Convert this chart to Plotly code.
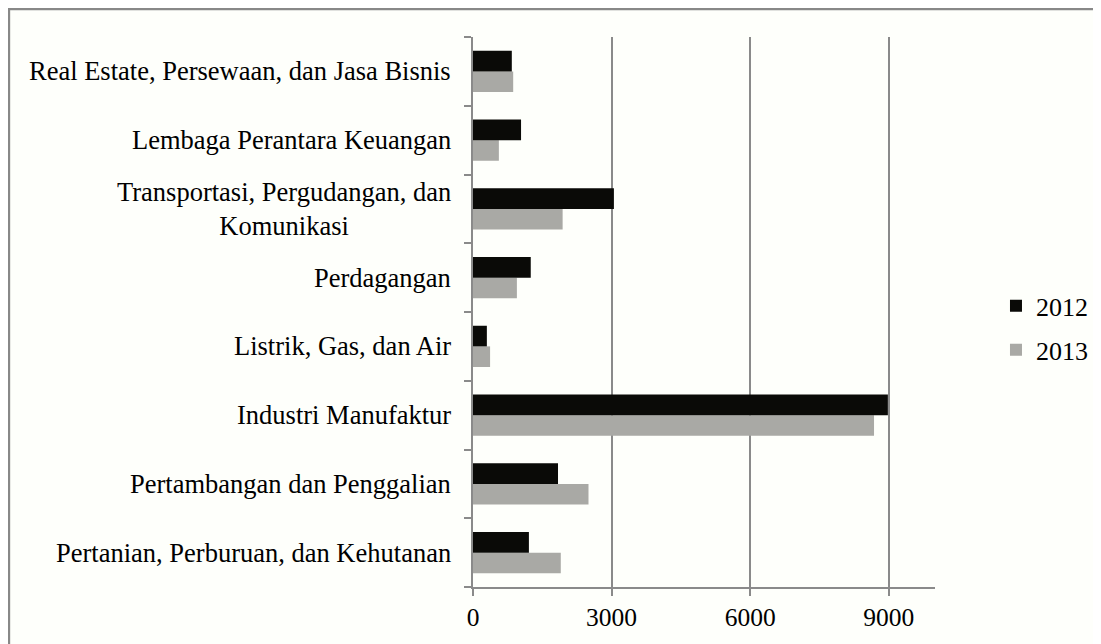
import plotly.graph_objects as go

categories = [
    "Pertanian, Perburuan, dan Kehutanan",
    "Pertambangan dan Penggalian",
    "Industri Manufaktur",
    "Listrik, Gas, dan Air",
    "Perdagangan",
    "Transportasi, Pergudangan, dan<br>Komunikasi",
    "Lembaga Perantara Keuangan",
    "Real Estate, Persewaan, dan Jasa Bisnis",
]
values_2012 = [1210, 1840, 8980, 300, 1250, 3050, 1040, 840]
values_2013 = [1900, 2500, 8680, 370, 950, 1940, 560, 870]
x_ticks = [0, 3000, 6000, 9000]

FONT = "Liberation Serif, Times New Roman, serif"
GRID = "#8a8a8a"

fig = go.Figure()
fig.add_trace(go.Bar(y=categories, x=values_2013, name="2013", orientation="h",
                     legendgroup="g2013", legendrank=2,
                     marker=dict(color="#a9a9a5", line=dict(width=0))))
fig.add_trace(go.Bar(y=categories, x=values_2012, name="2012", orientation="h",
                     legendgroup="g2012", legendrank=1,
                     marker=dict(color="#0a0a07", line=dict(width=0))))

for c in categories:
    fig.add_annotation(x=0, xref="paper", y=c, yref="y", text=c, showarrow=False,
                       xanchor="right", yanchor="middle", align="center", xshift=-20,
                       font=dict(family=FONT, size=26.5, color="#000"))

fig.add_shape(type="rect", xref="paper", yref="paper",
              x0=-465 / 462 + 0.002, x1=2, y0=-1, y1=(550 + 29) / 550 - 0.002,
              line=dict(color="#888888", width=2.5), fillcolor="rgba(0,0,0,0)", layer="below")

fig.update_layout(
    width=1101, height=644,
    margin=dict(l=465, r=174, t=29, b=65),
    paper_bgcolor="#fefffb", plot_bgcolor="rgba(0,0,0,0)",
    barmode="group", bargap=0.4, bargroupgap=0,
    font=dict(family=FONT, size=26, color="#000"),
    showlegend=True,
    legend=dict(traceorder="grouped", tracegroupgap=7, x=1.132, y=0.471,
                xanchor="left", yanchor="middle",
                bgcolor="rgba(0,0,0,0)", font=dict(family=FONT, size=26), itemwidth=30),
    xaxis=dict(range=[0, 10000], tickvals=x_ticks, ticktext=[str(v) for v in x_ticks],
               showgrid=True, gridcolor=GRID, gridwidth=1.5, zeroline=False,
               showline=True, linecolor=GRID, linewidth=1.5,
               ticks="outside", ticklen=7, tickcolor=GRID, tickwidth=1.5,
               tickfont=dict(family=FONT, size=25.5)),
    yaxis=dict(type="category", categoryorder="array", categoryarray=categories,
               showticklabels=False, showgrid=False, zeroline=False,
               showline=True, linecolor=GRID, linewidth=1.5,
               ticks="outside", ticklen=7, tickcolor=GRID, tickwidth=1.5, tickson="boundaries"),
)

fig.write_html("out.html")
